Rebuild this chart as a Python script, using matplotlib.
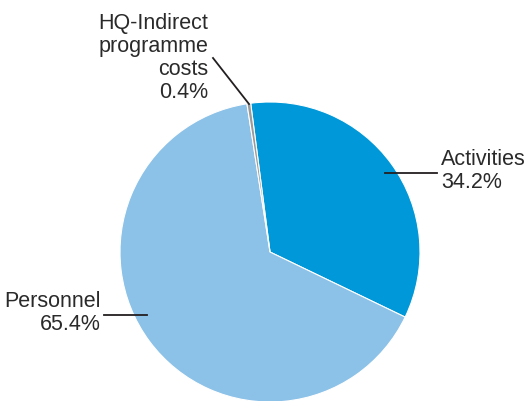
import matplotlib
matplotlib.use("Agg")
import matplotlib.pyplot as plt

plt.rcParams['font.family'] = ['Liberation Sans', 'DejaVu Sans']

# budget split
labels = ['Activities', 'Personnel', 'HQ-Indirect\nprogramme\ncosts']
shares = [34.2, 65.4, 0.4]
colors = ['#0098d8', '#8cc1e8', '#9a9a9a']

W, H = 531, 401
fig = plt.figure(figsize=(W / 100, H / 100), dpi=100)
ax = fig.add_axes([0, 0, 1, 1])


def py(y):
    # pixel row (from top) -> data y
    return H - y


ax.pie(shares, colors=colors, startangle=97.4, counterclock=False,
       center=(270, py(252)), radius=150,
       wedgeprops=dict(edgecolor='white', linewidth=0.8))

ax.set_xlim(0, W)
ax.set_ylim(0, H)
ax.set_aspect('equal')
ax.axis('off')

txt = dict(fontsize=15.5, color='#2a2a2a', linespacing=1.13)
line = dict(color='#231f20', lw=1.3)

ax.text(441, py(149), f'{labels[0]}\n{shares[0]}%', ha='left', va='top', **txt)
ax.plot([385, 437], [py(173), py(173)], **line)

ax.text(101, py(291), f'{labels[1]}\n{shares[1]}%', ha='right', va='top', **txt)
ax.plot([104, 147], [py(315), py(315)], **line)

ax.text(208, py(13), f'{labels[2]}\n{shares[2]}%', ha='right', va='top', **txt)
ax.plot([213, 249], [py(58), py(104)], **line)

fig.savefig('out.png', dpi=100)
